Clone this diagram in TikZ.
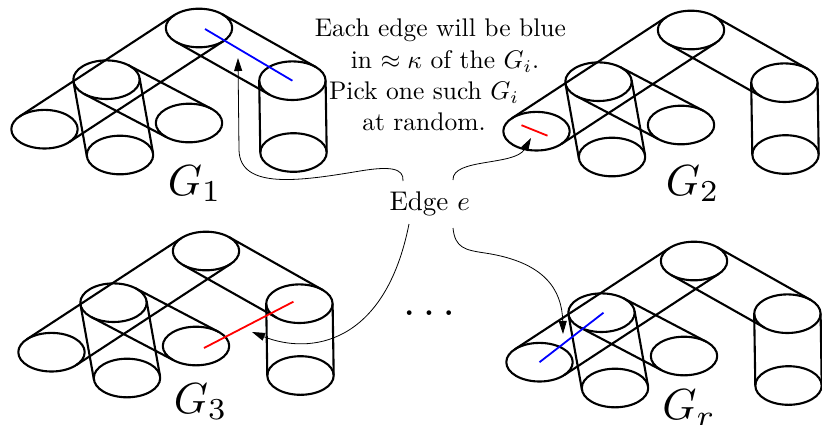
\documentclass[tikz,border=0pt]{standalone}
\usetikzlibrary{calc,arrows.meta}
\definecolor{eblue}{RGB}{0,0,255}
\definecolor{ered}{RGB}{255,0,0}
\newcommand\gra{33.2}
\newcommand\grb{19.3}
\tikzset{
  gline/.style={line width=2.1pt, line join=round},
  arr/.style={line width=0.8pt, -{Triangle[length=13pt,width=8pt]}},
  bluel/.style={line width=1.8pt, draw=eblue},
  redl/.style={line width=1.8pt, draw=ered},
  txt/.style={inner sep=0pt, scale=2.55},
  lbl/.style={inner sep=0pt, scale=4.35},
}
% outer common tangents of two equal ellipses (a tube)
\newcommand\tubeline[2]{%
  \pgfpointdiff{\pgfpointanchor{#1}{center}}{\pgfpointanchor{#2}{center}}%
  \pgfgetlastxy{\tbdx}{\tbdy}%
  \pgfmathsetmacro\tbth{atan2(\tbdy,\tbdx)}%
  \pgfmathsetmacro\tbnn{sqrt((\gra*sin(\tbth))^2+(\grb*cos(\tbth))^2)}%
  \pgfmathsetmacro\tbox{-\gra*\gra*sin(\tbth)/\tbnn}%
  \pgfmathsetmacro\tboy{\grb*\grb*cos(\tbth)/\tbnn}%
  \draw[gline] ($(#1)+(\tbox pt,\tboy pt)$) -- ($(#2)+(\tbox pt,\tboy pt)$)
               ($(#1)-(\tbox pt,\tboy pt)$) -- ($(#2)-(\tbox pt,\tboy pt)$);
}
\newcommand\drawgraph[3]{%
  \begin{scope}[shift={(#2,#3)}]
    \coordinate (#1T) at (0,0);
    \coordinate (#1L1) at (-92.5,51.7);
    \coordinate (#1L2) at (-79,127);
    \coordinate (#1A) at (-154.5,101.2);
    \coordinate (#1B) at (-10,95);
    \coordinate (#1R1) at (93.4,52.7);
    \coordinate (#1R2) at (94.5,124.5);
    \foreach \gn in {T,L1,L2,A,B,R1,R2}
      \draw[gline] (#1\gn) ellipse [x radius=\gra pt, y radius=\grb pt];
    \tubeline{#1T}{#1A}
    \tubeline{#1T}{#1R1}
    \tubeline{#1L1}{#1B}
    \tubeline{#1L1}{#1L2}
    \tubeline{#1R1}{#1R2}
  \end{scope}}
\begin{document}
\begin{tikzpicture}[x=1pt,y=-1pt]
\useasboundingbox (0,0) rectangle (822,424);
\drawgraph{a}{199}{28}
\drawgraph{b}{691}{30}
\drawgraph{c}{206}{251}
\drawgraph{d}{694}{261}

% highlighted edges
\draw[bluel] ($(aT)+(6,1)$) -- (aR1);
\draw[redl] ($(bA)+(-15,-6)$) -- ($(bA)+(11,4.5)$);
\draw[redl] ($(cB)+(8,2)$) -- ($(cR1)+(-6,-2)$);
\draw[bluel] (dA) -- ($(dL1)+(2,0)$);

% labels
\node[lbl, anchor=base west] (lab1) at (167,195) {$G_1$};
\node[lbl, anchor=base west] (lab2) at (665,195) {$G_2$};
\node[lbl, anchor=base west] (lab3) at (173,413) {$G_3$};
\node[lbl, anchor=base west] (lab4) at (661.5,419.5) {$G_r$};
\node[inner sep=0pt, scale=4.45, anchor=base] (dots) at (429,315) {$\dots$};

% text
\node[txt, anchor=base] (tx1) at (440.3,36.5) {Each edge will be blue};
\node[txt, anchor=base] (tx2) at (445,68.3) {in $\approx\kappa$ of the $G_i$.};
\node[txt, anchor=base] (tx3) at (424,99.3) {Pick one such $G_i$};
\node[txt, anchor=base] (tx4) at (424,130.7) {at random.};
\node[inner sep=0pt, scale=2.7, anchor=base west] (edge) at (389,210) {Edge $e$};

% arrows
\coordinate (s1) at (403,181);
\coordinate (s2) at (453,180);
\coordinate (s3) at (409,224);
\coordinate (s4) at (453,228);
\coordinate (e1) at (238,58);
\coordinate (e2) at (531,138);
\coordinate (e3) at (252,332);
\coordinate (e4) at (563,334);
\draw[arr] (s1) .. controls (404,168) and (390,166) .. (360,171)
               .. controls (300,181) and (240,190) .. (239,150) -- (e1);
\draw[arr] (s2) .. controls (452,158) and (515,166) .. (e2);
\draw[arr] (s3) .. controls (385,345) and (310,355) .. (e3);
\draw[arr] (s4) .. controls (455,248) and (465,250) .. (485,253)
               .. controls (545,262) and (562,290) .. (e4);
\end{tikzpicture}
\end{document}
